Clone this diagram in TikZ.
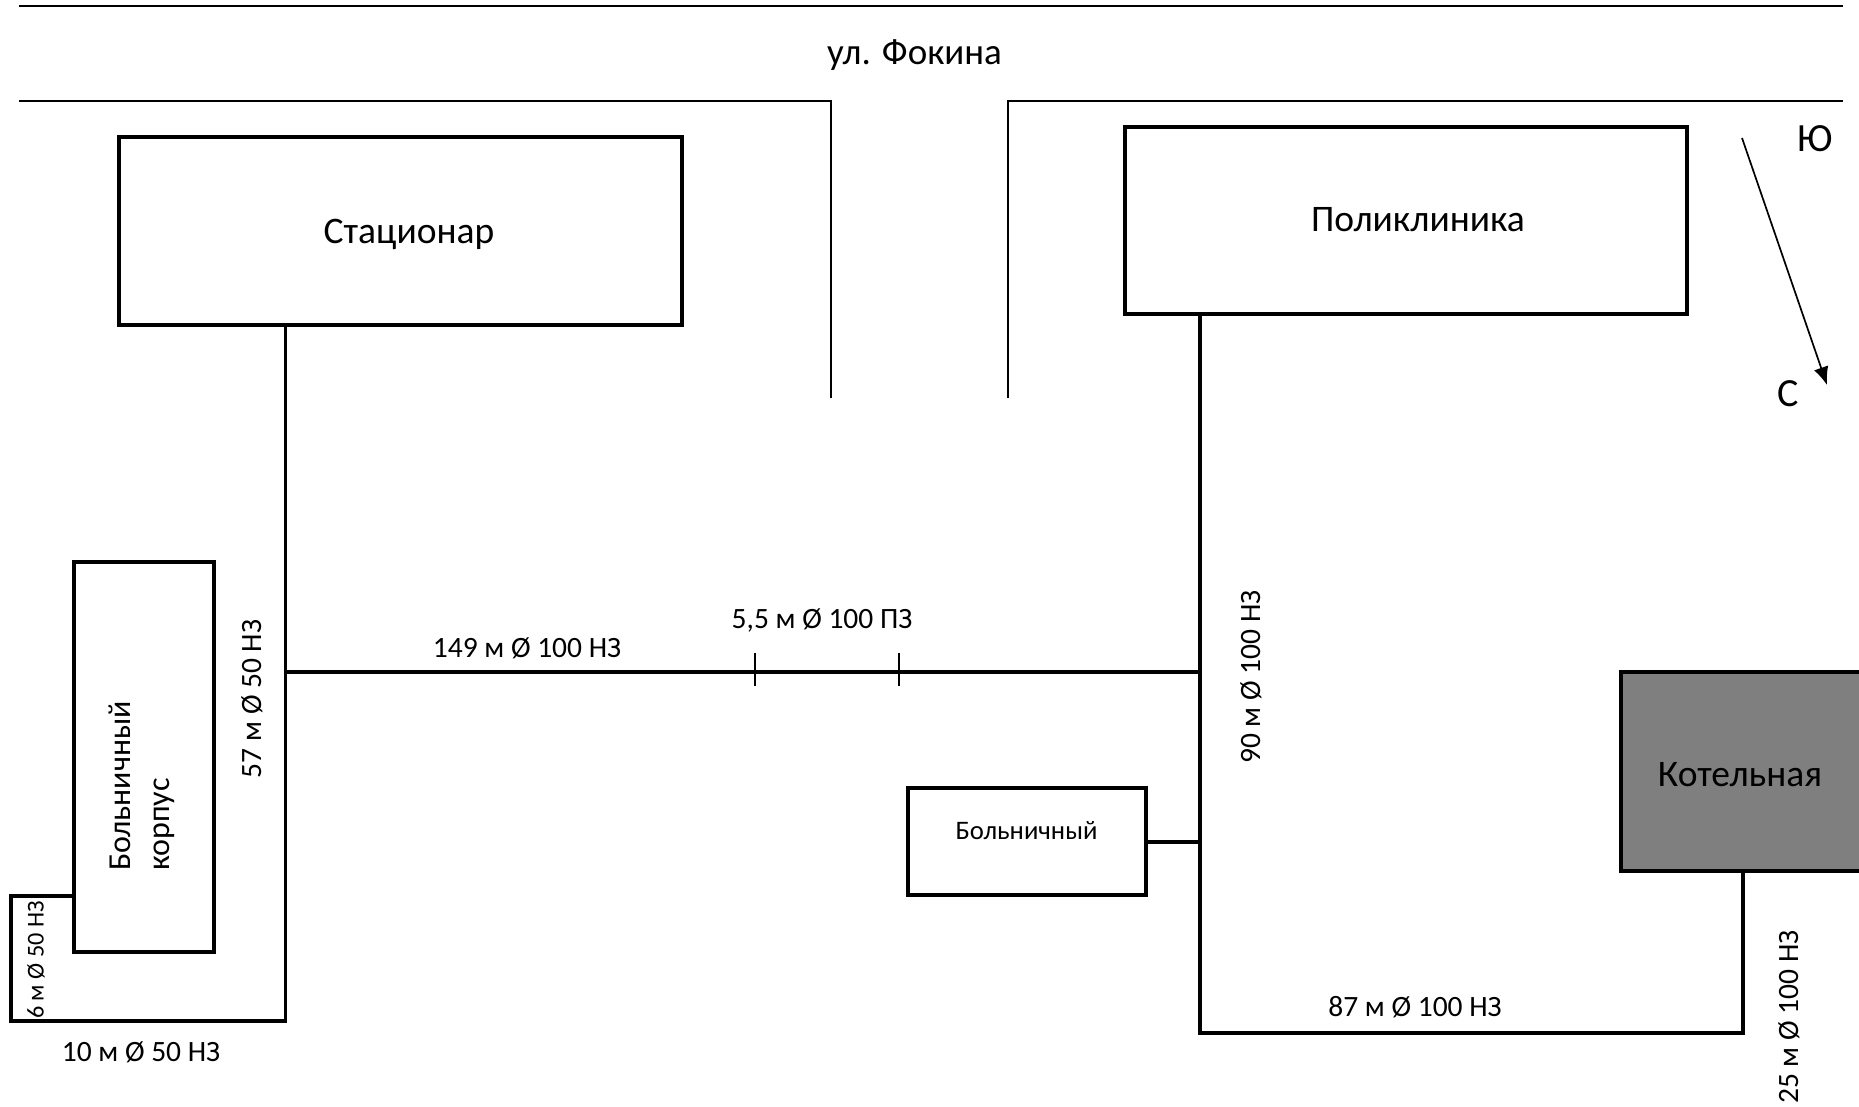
\documentclass[tikz,border=0pt]{standalone}
\usepackage{fontspec}
\setmainfont{Carlito}
\usetikzlibrary{arrows.meta}
\tikzset{
  x=1pt,y=-1pt,
  bld/.style={draw=black,line width=4pt,outer sep=0pt,inner sep=0pt,anchor=north west},
  pipe/.style={draw=black,line width=3.8pt},
  road/.style={draw=black,line width=1.6pt},
  tick/.style={draw=black,line width=1.5pt},
  lab/.style={inner sep=0pt,font=\fontsize{29.5}{29.5}\selectfont},
  big/.style={inner sep=0pt,font=\fontsize{37.5}{37.5}\selectfont},
}
\begin{document}
\begin{tikzpicture}
\useasboundingbox (0,0) rectangle (1859,1107);
% streets
\coordinate (t1) at (19,6); \coordinate (t2) at (1843,6);
\coordinate (s1) at (19,101); \coordinate (s2) at (831,101); \coordinate (s3) at (831,398);
\coordinate (r1) at (1843,101); \coordinate (r2) at (1008,101); \coordinate (r3) at (1008,398);
\draw[road] (t1) -- (t2);
\draw[road] (s1) -- (s2) -- (s3);
\draw[road] (r1) -- (r2) -- (r3);
\node[big,font=\fontsize{37}{37}\selectfont] (street) at (914.5,55) {ул. Фокина};
% buildings
\node[bld,minimum width=563pt,minimum height=187pt] (stat) at (119,137.5) {};
\node[big] (statl) at (409,234) {Стационар};
\node[bld,minimum width=562pt,minimum height=186.5pt] (poly) at (1125,127.5) {};
\node[big] (polyl) at (1418,220) {Поликлиника};
\node[bld,minimum width=140pt,minimum height=390.5pt] (korp) at (73.5,561.5) {};
\node[rotate=90,align=left,inner sep=0pt,font=\fontsize{32}{39}\selectfont] (korpl) at (141.5,786) {Больничный\\корпус};
\node[bld,minimum width=238pt,minimum height=107pt] (bol) at (908,788) {};
\node[lab,font=\fontsize{26.7}{26.7}\selectfont] (boll) at (1026.5,831) {Больничный};
\node[bld,fill={rgb,255:red,127;green,127;blue,127},minimum width=260pt,minimum height=199pt] (kotel) at (1621,672) {};
\node[big] (kot) at (1740,775) {Котельная};
% pipes
\coordinate (a2) at (285.5,672); \coordinate (a3) at (285.5,1021);
\coordinate (a4) at (11,1021); \coordinate (a5) at (11,896); \coordinate (a6) at (76,896);
\coordinate (b2) at (1200,672); \coordinate (b3) at (1200,842);
\coordinate (b4) at (1200,1033); \coordinate (b5) at (1743,1033);
\draw[pipe] (a2 |- stat.south) -- (a3) -- (a4) -- (a5) -- (a6);
\draw[pipe] (a2) -- (b2);
\draw[pipe] (b2 |- poly.south) -- (b4) -- (b5) -- (b5 |- kotel.south);
\draw[pipe] (bol.east |- b3) -- (b3);
% ticks
\coordinate (k1t) at (755,653); \coordinate (k1b) at (755,686);
\coordinate (k2t) at (899,653); \coordinate (k2b) at (899,686);
\draw[tick] (k1t) -- (k1b);
\draw[tick] (k2t) -- (k2b);
% labels
\node[lab] (l149) at (527,648) {149 м Ø 100 НЗ};
\node[lab] (l55) at (822,620) {5,5 м Ø 100 ПЗ};
\node[lab,rotate=90] (l57) at (252,699) {57 м Ø 50 НЗ};
\node[lab,rotate=90] (l90) at (1251,677) {90 м Ø 100 НЗ};
\node[lab] (l87) at (1415,1007) {87 м Ø 100 НЗ};
\node[lab,rotate=90] (l25) at (1789,1017) {25 м Ø 100 НЗ};
\node[lab] (l10) at (141,1052) {10 м Ø 50 НЗ};
\node[lab,rotate=90,font=\fontsize{24.2}{24.2}\selectfont] (l6) at (36,960) {6 м Ø 50 НЗ};
% compass
\coordinate (n1) at (1742,138); \coordinate (n2) at (1827,385);
\draw[line width=1.7pt,-{Latex[length=18pt,width=15pt]}] (n1) -- (n2);
\node[inner sep=0pt,font=\fontsize{40}{40}\selectfont] (yu) at (1815,139) {Ю};
\node[inner sep=0pt,font=\fontsize{40}{40}\selectfont] (se) at (1788,394) {С};
\end{tikzpicture}
\end{document}
